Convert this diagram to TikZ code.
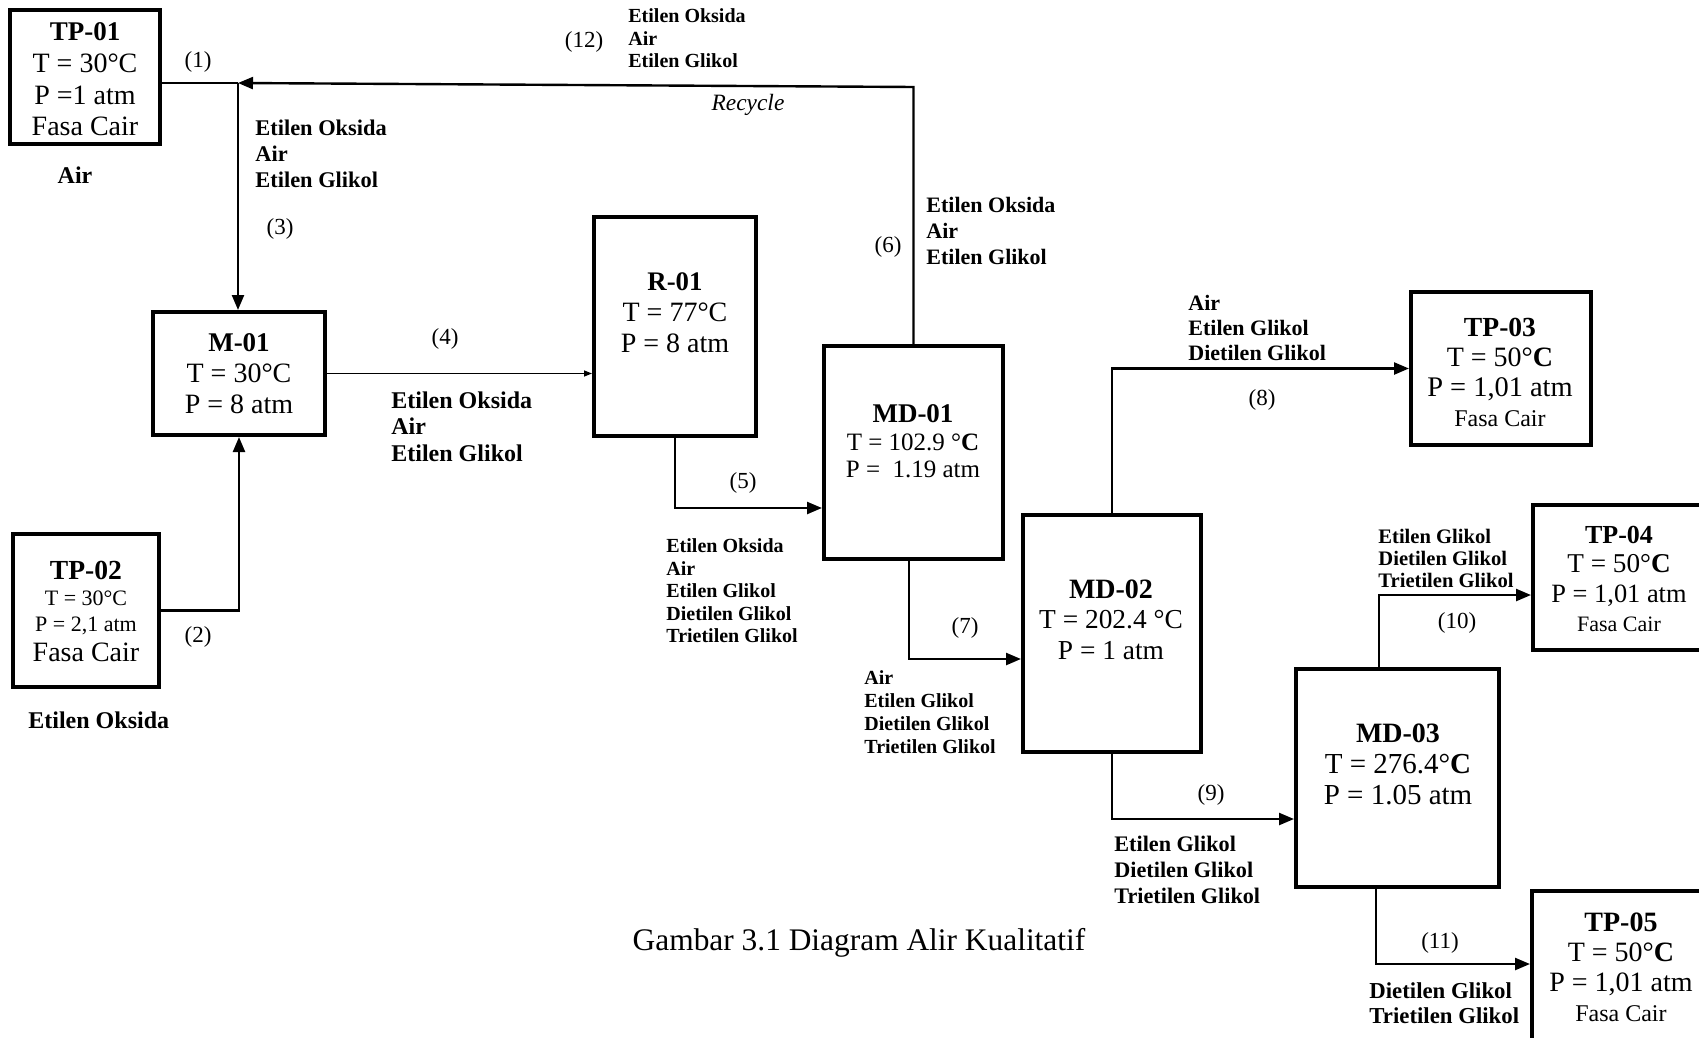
\documentclass[tikz,border=0pt]{standalone}
\usepackage{fontspec}
\setmainfont{Liberation Serif}
\usetikzlibrary{arrows.meta}
\newcommand\fsz[1]{\fontsize{#1}{#1}\selectfont}
\tikzset{
  eqbox/.style 2 args={draw, line width=2pt, rectangle, inner sep=0pt,
    minimum width=#1*0.5pt, minimum height=#2*0.5pt},
  bt/.style={align=center, inner sep=0pt},
  sl/.style={align=left, anchor=west, inner sep=0pt},
  num/.style={inner sep=0pt, font=\fsz{11.5}},
  line1/.style={line width=1.2pt},
  flow/.style={line width=1.2pt, -{Triangle[length=7.5pt,width=6pt]}},
  thinflow/.style={line width=0.7pt, -{Triangle[length=4pt,width=3pt]}},
}
\begin{document}
\begin{tikzpicture}[x=0.5pt,y=-0.5pt]
\useasboundingbox (0,0) rectangle (1699,1038);
\clip (0,0) rectangle (1699,1038);
\fill[white] (0,0) rectangle (1699,1038);

% ---------- boxes ----------
\node[eqbox={150}{134}] (tp01) at (85,77) {};
\node[eqbox={146}{153}] (tp02) at (86,610.5) {};
\node[eqbox={172}{123}] (m01) at (239,373.5) {};
\node[eqbox={162}{219}] (r01) at (675,326.5) {};
\node[eqbox={179}{213}] (md01) at (913.5,452.5) {};
\node[eqbox={178}{237}] (md02) at (1112,633.5) {};
\node[eqbox={203}{218}] (md03) at (1397.5,778) {};
\node[eqbox={180}{153}] (tp03) at (1501,368.5) {};
\node[eqbox={172}{145}] (tp04) at (1619,577.5) {};
\node[eqbox={172}{160}] (tp05) at (1618,971) {};

% ---------- box texts ----------
\node[bt, font={\fontsize{14}{15.85}\selectfont}] (tp01t) at (85,79.5)
  {{\bfseries\fsz{13.5}TP-01}\\T = 30°C\\P =1 atm\\Fasa Cair};
\node[bt, font={\fontsize{11}{13}\selectfont}] (tp02t) at (86,611)
  {{\bfseries\fsz{13.8}TP-02}\\T = 30°C\\P = 2,1 atm\\[2pt]{\fsz{14}Fasa Cair}};
\node[bt, font={\fontsize{14}{15.5}\selectfont}] (m01t) at (239,374)
  {{\bfseries\fsz{13.5}M-01}\\T = 30°C\\P = 8 atm};
\node[bt, font={\fontsize{14}{15.5}\selectfont}] (r01t) at (675,313)
  {{\bfseries\fsz{13.4}R-01}\\T = 77°C\\P = 8 atm};
\node[bt, font={\fontsize{12.5}{13.75}\selectfont}] (md01t) at (913,441.5)
  {{\bfseries\fsz{13.5}MD-01}\\T = 102.9 °\textbf{C}\\P =\ \ 1.19 atm};
\node[bt, font={\fontsize{13.7}{15.25}\selectfont}] (md02t) at (1111,619.5)
  {{\bfseries\fsz{14}MD-02}\\T = 202.4 °C\\P = 1 atm};
\node[bt, font={\fontsize{14.5}{15.5}\selectfont}] (md03t) at (1398,764)
  {{\bfseries\fsz{14}MD-03}\\T = 276.4°\textbf{C}\\P = 1.05 atm};
\node[bt, font={\fontsize{14.2}{15}\selectfont}] (tp03t) at (1500,372)
  {{\bfseries\fsz{13.8}TP-03}\\{\fsz{14}T = 50°\textbf{C}}\\P = 1,01 atm\\{\fsz{12}Fasa Cair}};
\node[bt, font={\fontsize{13.2}{14.7}\selectfont}] (tp04t) at (1619,579)
  {{\bfseries\fsz{13}TP-04}\\{\fsz{13.6}T = 50°\textbf{C}}\\P = 1,01 atm\\{\fsz{11}Fasa Cair}};
\node[bt, font={\fontsize{14}{15}\selectfont}] (tp05t) at (1621,967.5)
  {{\bfseries\fsz{14}TP-05}\\{\fsz{14}T = 50°\textbf{C}}\\P = 1,01 atm\\{\fsz{12}Fasa Cair}};

% ---------- connectors ----------
\coordinate (j1) at (238,83);
\coordinate (rc) at (md01.north |- 0,87);
\draw[line1] (tp01.east |- j1) -- (j1);
\draw[flow] (md01.north) -- (rc) -- (j1);
\draw[flow] (j1) -- (j1 |- m01.north);
\draw[flow] (tp02.east) -| (m01.south);
\draw[thinflow] (m01.east) -- (m01.east -| r01.west);
\draw[flow] (r01.south) |- (md01.west |- 0,508);
\draw[flow] (md01.south -| 909,0) |- (md02.west |- 0,659);
\draw[flow] (md02.north) |- (tp03.west);
\draw[flow] (md02.south) |- (md03.west |- 0,819);
\draw[flow] (md03.north -| 1379,0) |- (tp04.west |- 0,595);
\draw[flow] (md03.south -| 1376,0) |- (tp05.west |- 0,964);

% ---------- stream numbers ----------
\node[num] (n1) at (198,62) {(1)};
\node[num] (n2) at (198,637) {(2)};
\node[num] (n3) at (280,229) {(3)};
\node[num] (n4) at (445,339) {(4)};
\node[num] (n5) at (743,483) {(5)};
\node[num] (n6) at (888,247) {(6)};
\node[num] (n7) at (965,628) {(7)};
\node[num] (n8) at (1262,400) {(8)};
\node[num] (n9) at (1211,795) {(9)};
\node[num] (n10) at (1457,623) {(10)};
\node[num] (n11) at (1440,943) {(11)};
\node[num] (n12) at (584,42) {(12)};

% ---------- stream labels ----------
\node[inner sep=0pt, font=\bfseries\fsz{12}] (lair) at (75,175) {Air};
\node[sl, font=\bfseries\fsz{12}] (leo) at (28,720) {Etilen Oksida};
\node[sl, font={\bfseries\fontsize{11.2}{13}\selectfont}] (l3) at (255,154)
  {Etilen Oksida\\Air\\Etilen Glikol};
\node[sl, font={\bfseries\fontsize{12}{13.25}\selectfont}] (l4) at (391,426.5)
  {Etilen Oksida\\Air\\Etilen Glikol};
\node[sl, font={\bfseries\fontsize{10}{11.25}\selectfont}] (l12) at (628,38.5)
  {Etilen Oksida\\Air\\Etilen Glikol};
\node[inner sep=0pt, font=\itshape\fsz{11.7}] (lrec) at (748,105) {Recycle};
\node[sl, font={\bfseries\fontsize{11}{13}\selectfont}] (l6) at (926,231)
  {Etilen Oksida\\Air\\Etilen Glikol};
\node[sl, font={\bfseries\fontsize{10}{11.25}\selectfont}] (l5) at (666,591)
  {Etilen Oksida\\Air\\Etilen Glikol\\Dietilen Glikol\\Trietilen Glikol};
\node[sl, font={\bfseries\fontsize{10}{11.5}\selectfont}] (l7) at (864,712.5)
  {Air\\Etilen Glikol\\Dietilen Glikol\\Trietilen Glikol};
\node[sl, font={\bfseries\fontsize{11}{12.5}\selectfont}] (l8) at (1188,328)
  {Air\\Etilen Glikol\\Dietilen Glikol};
\node[sl, font={\bfseries\fontsize{11.1}{13}\selectfont}] (l9) at (1114,870)
  {Etilen Glikol\\Dietilen Glikol\\Trietilen Glikol};
\node[sl, font={\bfseries\fontsize{10.3}{11}\selectfont}] (l10) at (1378,558)
  {Etilen Glikol\\Dietilen Glikol\\Trietilen Glikol};
\node[sl, font={\bfseries\fontsize{11.4}{12.5}\selectfont}] (l11) at (1369,1003.5)
  {Dietilen Glikol\\Trietilen Glikol};

% ---------- caption ----------
\node[inner sep=0pt, font=\fsz{15.7}] (cap) at (859,943) {Gambar 3.1 Diagram Alir Kualitatif};
\end{tikzpicture}
\end{document}
